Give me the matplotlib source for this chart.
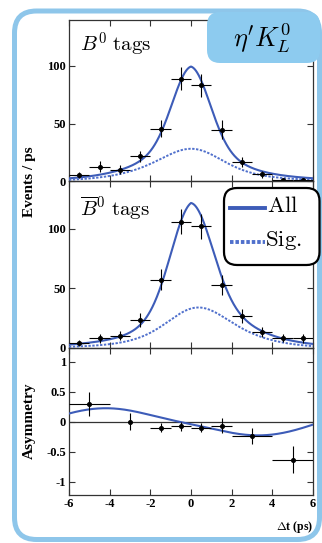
import numpy as np
import matplotlib
matplotlib.use('Agg')
from matplotlib import pyplot as plt
from matplotlib.patches import FancyBboxPatch
from matplotlib.lines import Line2D

plt.rcParams['mathtext.fontset'] = 'cm'
plt.rcParams['axes.unicode_minus'] = False

# binned data, 1 ps bins
t_bins = [-5.5, -4.5, -3.5, -2.5, -1.5, -0.5, 0.5, 1.5, 2.5, 3.5, 4.5, 5.5]
b0_n = [5.0, 12.4, 9.7, 21.5, 45.6, 89.1, 83.2, 44.7, 16.8, 5.9, 1.2, 0.8]
b0_err = [2.5, 5.0, 4.0, 4.9, 7.6, 10.0, 10.0, 8.2, 4.4, 3.2, 1.5, 1.0]
b0bar_n = [4.5, 8.1, 10.3, 23.6, 57.3, 106.0, 102.0, 52.5, 26.9, 13.1, 8.6, 8.1]
b0bar_err = [2.5, 3.5, 3.8, 5.6, 8.7, 10.4, 10.5, 8.3, 6.0, 4.2, 3.5, 3.5]

asym_t = [-5, -3, -1.5, -0.5, 0.5, 1.5, 3, 5]
asym_v = [0.29, 0.0, -0.095, -0.078, -0.095, -0.062, -0.24, -0.63]
asym_yerr = [0.2, 0.14, 0.083, 0.07, 0.07, 0.12, 0.13, 0.23]
asym_xerr = [1, 0, 0.5, 0.5, 0.5, 0.5, 1, 1]

# fit model parameters
tau = 1.53        # B lifetime (ps)
dm = 0.507        # mixing frequency (1/ps)
sig_res = 1.0     # resolution width (ps)
mu_sig = 0.19     # resolution bias for the yield curves (ps)
mu_asym = -0.25   # resolution bias for the asymmetry curve (ps)
DS = -0.256       # diluted S
DC = 0.025        # diluted C
n_sig = [28.5, 33.0]      # signal peak, B0 / B0bar
bg_core = [57.5, 68.5]    # prompt-like background core
bg_width = [0.9, 1.0]
bg_tail = [14.0, 20.0]    # background tail
bg_tau = 2.5

tt = np.arange(-15, 15.001, 0.02)
t = np.linspace(-6, 6, 601)


def smeared(mu):
    # decay and mixing terms convolved with a gaussian resolution
    kern = np.exp(-0.5 * ((tt - mu) / sig_res) ** 2)
    kern /= kern.sum()
    decay = np.exp(-np.abs(tt) / tau)
    base = np.convolve(decay, kern, mode='same')
    sinp = np.convolve(decay * np.sin(dm * tt), kern, mode='same')
    cosp = np.convolve(decay * np.cos(dm * tt), kern, mode='same')
    norm = base.max()
    cp = DS * sinp - DC * cosp
    return np.interp(t, tt, base) / norm, np.interp(t, tt, cp) / norm


def background(i):
    return bg_core[i] * np.exp(-0.5 * (t / bg_width[i]) ** 2) + bg_tail[i] * np.exp(-np.abs(t) / bg_tau)


base_t, cp_t = smeared(mu_sig)
base_a, cp_a = smeared(mu_asym)
asym_curve = cp_a / base_a

bg0 = background(0)
bg1 = background(1)
sig0 = n_sig[0] * (base_t + cp_t)
sig1 = n_sig[1] * (base_t - cp_t)

blue = '#3d5cb8'
blue2 = '#5070cc'
tickfont = {'family': 'Liberation Serif', 'weight': 'bold', 'size': 9}

fig = plt.figure(figsize=(3.22, 5.43), dpi=100)
fig.patch.set_facecolor('white')

# outer rounded frame
frame = FancyBboxPatch((0.145, 0.035), 3.05, 5.285, boxstyle='round,pad=0,rounding_size=0.22',
                       transform=fig.dpi_scale_trans, fc='white', ec='#8ec6ea', lw=3.6, zorder=-5)
fig.patches.append(frame)

W, H = 322.0, 543.0
def axrect(top, bottom):
    return [69 / W, (H - bottom) / H, 244 / W, (bottom - top) / H]

ax1 = fig.add_axes(axrect(20, 181))
ax2 = fig.add_axes(axrect(181, 348))
ax3 = fig.add_axes(axrect(348, 495))

def style(ax):
    ax.set_xlim(-6, 6)
    ax.set_xticks([-6, -4, -2, 0, 2, 4, 6])
    ax.tick_params(direction='in', length=4, width=0.8, top=True, right=True, color='#333333', pad=2)
    for s in ax.spines.values():
        s.set_color('#333333')
        s.set_linewidth(0.9)
    ax.patch.set_alpha(0)

for ax, n, e, sig, bg in [(ax1, b0_n, b0_err, sig0, bg0), (ax2, b0bar_n, b0bar_err, sig1, bg1)]:
    style(ax)
    ax.set_ylim(0, 140)
    ax.set_yticks([0, 50, 100])
    ax.set_yticklabels(['0', '50', '100'], fontdict=tickfont)
    ax.set_xticklabels([])
    ax.plot(t, sig + bg, color=blue, lw=1.5, zorder=3)
    ax.plot(t, sig, color=blue2, lw=1.4, ls=(0, (1.2, 0.8)), zorder=3)
    ax.errorbar(t_bins, n, yerr=e, xerr=0.5, fmt='o', ms=2.6, color='black', ecolor='black',
                elinewidth=0.8, capsize=0, zorder=4)

ax1.text(-5.45, 112, r'$B^0\ \mathrm{tags}$', fontsize=15, va='baseline')
ax2.text(-5.45, 111, r'$\overline{B}^0\ \mathrm{tags}$', fontsize=15, va='baseline')

style(ax3)
ax3.set_ylim(-1.22, 1.23)
ax3.set_yticks([-1, -0.5, 0, 0.5, 1])
ax3.set_yticklabels(['-1', '-0.5', '0', '0.5', '1'], fontdict=tickfont)
ax3.set_xticklabels(['-6', '-4', '-2', '0', '2', '4', '6'], fontdict=tickfont)
ax3.axhline(0, color='#333333', lw=0.9, zorder=2)
ax3.plot(t, asym_curve, color=blue, lw=1.5, zorder=3)
ax3.errorbar(asym_t, asym_v, yerr=asym_yerr, xerr=asym_xerr, fmt='o', ms=2.6, color='black',
             ecolor='black', elinewidth=0.8, capsize=0, zorder=4)

labfont = {'family': 'Liberation Serif', 'weight': 'bold', 'size': 11}
fig.text(30 / W, (H - 182) / H, 'Events / ps', rotation=90, ha='center', va='center', fontdict=labfont)
fig.text(29 / W, (H - 421) / H, 'Asymmetry', rotation=90, ha='center', va='center', fontdict=labfont)
fig.text(313 / W, (H - 527) / H, r'$\Delta$t (ps)', ha='right', va='center',
         fontdict={'family': 'Liberation Serif', 'weight': 'bold', 'size': 8.5})

# channel label
tag = FancyBboxPatch((2.07, 4.80), 1.13, 0.51, boxstyle='round,pad=0,rounding_size=0.13',
                     transform=fig.dpi_scale_trans, fc='#8dcbef', ec='none', zorder=5)
fig.patches.append(tag)
fig.text(262 / W, (H - 38) / H, r"$\eta' K_L^0$", fontsize=19, ha='center', va='center', zorder=6)

# legend
leg = FancyBboxPatch((2.24, 2.78), 0.955, 0.77, boxstyle='round,pad=0,rounding_size=0.13',
                     transform=fig.dpi_scale_trans, fc='white', ec='black', lw=1.6, zorder=5)
fig.patches.append(leg)
fig.lines.append(Line2D([2.30, 2.65], [5.43 - 2.08, 5.43 - 2.08], color=blue, lw=2.8,
                        transform=fig.dpi_scale_trans, zorder=6))
fig.lines.append(Line2D([2.30, 2.65], [5.43 - 2.42, 5.43 - 2.42], color=blue2, lw=2.8,
                        ls=(0, (0.9, 0.5)), transform=fig.dpi_scale_trans, zorder=6))
fig.text(267 / W, (H - 206) / H, r'$\mathrm{All}$', fontsize=16.5, va='center', zorder=6)
fig.text(265 / W, (H - 240) / H, r'$\mathrm{Sig.}$', fontsize=16.5, va='center', zorder=6)

fig.savefig('out.png', dpi=100)
